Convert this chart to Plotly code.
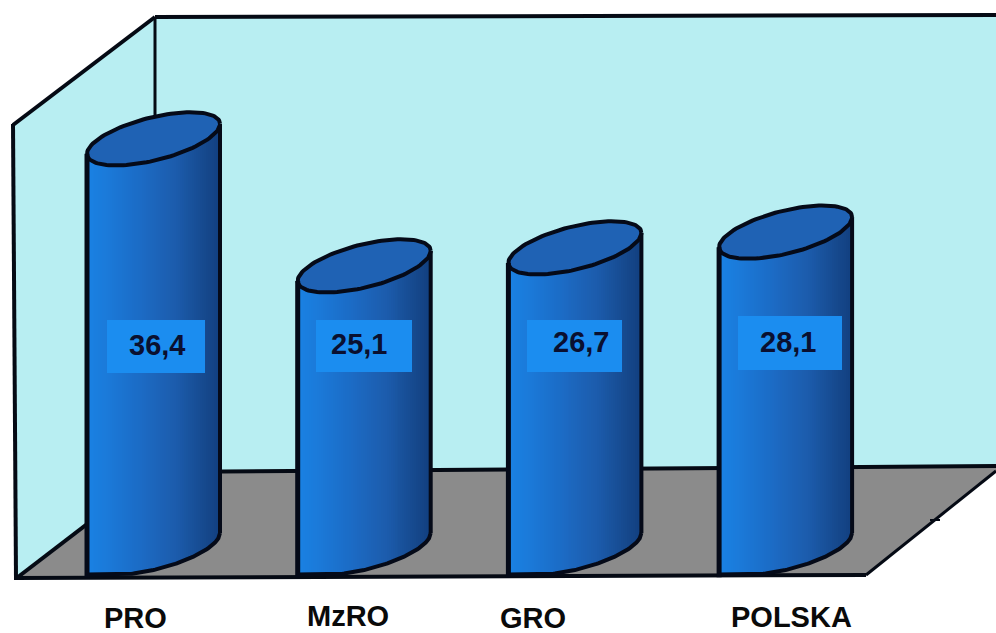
import numpy as np
import plotly.graph_objects as go

categories = ["PRO", "MzRO", "GRO", "POLSKA"]
values = [36.4, 25.1, 26.7, 28.1]
value_labels = ["36,4", "25,1", "26,7", "28,1"]

W, H = 996, 633
PX_X = 210.7          # px per category
X0 = 153.5            # px of first category
PX_Y = 11.24          # px per value unit
Y0 = 548              # px of value 0

def px(x): return x / W
def py(y): return 1 - y / H

HALF = 66.5 / PX_X    # cylinder half width in category units
SKEW = 15 / PX_Y      # tilt of the ellipse
MINOR = 22 / PX_Y     # minor half-height of the ellipse
NSTRIP = 67

u = (np.arange(NSTRIP) + 0.5) / NSTRIP * 2 - 1
stop_u = [-1, -0.75, -0.2, 0.35, 0.8, 1]
stop_rgb = np.array([[26, 130, 228], [27, 124, 220], [28, 108, 198],
                     [28, 92, 172], [22, 72, 140], [18, 64, 128]])
strip_cols = ["rgb(%d,%d,%d)" % tuple(np.interp(t, stop_u, stop_rgb[:, k]) for k in range(3)) for t in u]

front_arc = SKEW * u - MINOR * np.sqrt(1 - u ** 2)
# the foot of the cylinder stays flat left of its lowest point
foot = np.minimum.accumulate(front_arc[::-1])[::-1]

fig = go.Figure()

# cylinder bodies: thin bars whose height follows the value
xs, bases, ys, cols = [], [], [], []
for i, v in enumerate(values):
    xs += list(i + u * HALF)
    bases += list(foot)
    ys += list(v + front_arc - foot)
    cols += strip_cols
fig.add_trace(go.Bar(x=xs, y=ys, base=bases, width=2.9 * HALF / NSTRIP,
                     marker=dict(color=cols, line=dict(width=0)), hoverinfo="skip", showlegend=False))

t = np.linspace(0, 2 * np.pi, 121)
ufine = np.linspace(-1, 1, 81)
arc_fine = SKEW * ufine - MINOR * np.sqrt(1 - ufine ** 2)
foot_fine = np.minimum.accumulate(arc_fine[::-1])[::-1]
for i, v in enumerate(values):
    # top opening
    fig.add_trace(go.Scatter(x=i + HALF * np.cos(t), y=v + SKEW * np.cos(t) + MINOR * np.sin(t),
                             mode="lines", fill="toself", fillcolor="#1f62b4",
                             line=dict(color="#050a18", width=4), hoverinfo="skip", showlegend=False))
    # bottom front arc
    fig.add_trace(go.Scatter(x=i + HALF * ufine, y=foot_fine,
                             mode="lines", line=dict(color="#050a18", width=4), hoverinfo="skip", showlegend=False))
    # side edges
    fig.add_trace(go.Scatter(x=[i - HALF, i - HALF], y=[v - SKEW, -2.6], mode="lines",
                             line=dict(color="#050a18", width=5), hoverinfo="skip", showlegend=False))
    fig.add_trace(go.Scatter(x=[i + HALF, i + HALF], y=[v + SKEW, SKEW], mode="lines",
                             line=dict(color="#050a18", width=4), hoverinfo="skip", showlegend=False))

def poly(points, fill):
    d = "M " + " L ".join(f"{px(a):.5f},{py(b):.5f}" for a, b in points) + " Z"
    return dict(type="path", path=d, xref="paper", yref="paper", fillcolor=fill,
                line=dict(width=0), layer="below")

def seg(a, b, c, d, w):
    return dict(type="line", xref="paper", yref="paper", x0=px(a), y0=py(b), x1=px(c), y1=py(d),
                line=dict(color="#050a14", width=w), layer="below")

WALL = "#b8eef2"
FLOOR = "#8b8b8b"
shapes = [
    poly([(155, 17), (996, 15), (996, 466), (155, 472)], WALL),
    poly([(13, 125), (155, 17), (155, 472), (16, 578)], WALL),
    poly([(18, 577), (155, 472), (996, 466), (996, 471), (866, 575)], FLOOR),
    seg(155, 17, 996, 15, 4),
    seg(13, 125, 155, 17, 4),
    seg(13, 124, 16, 578, 4),
    seg(155, 17, 155, 472, 3),
    seg(155, 472, 996, 466, 4),
    seg(18, 577, 155, 472, 4),
    seg(14, 578, 866, 575, 4),
    seg(866, 575, 996, 471, 3),
    seg(930, 520, 940, 520, 2),
]

# value plates
plates = [(107, 205, 320, 373), (316, 412, 320, 372), (527, 622, 320, 372), (738, 842, 316, 370)]
for a, b, c, d in plates:
    shapes.append(dict(type="rect", xref="paper", yref="paper", x0=px(a), x1=px(b), y0=py(c), y1=py(d),
                       fillcolor="#1b8df0", line=dict(width=0), layer="above"))

annotations = []
val_px = [(157, 345), (359, 344), (581, 342), (788, 342)]
for lab, (a, b) in zip(value_labels, val_px):
    annotations.append(dict(x=px(a), y=py(b), xref="paper", yref="paper", xanchor="center", yanchor="middle",
                            text=f"<b>{lab}</b>", showarrow=False,
                            font=dict(family="Liberation Sans", size=29, color="#0a1030")))
cat_px = [(135, 618), (348, 616), (533, 618), (791, 617)]
for lab, (a, b) in zip(categories, cat_px):
    annotations.append(dict(x=px(a), y=py(b), xref="paper", yref="paper", xanchor="center", yanchor="middle",
                            text=f"<b>{lab}</b>", showarrow=False, borderpad=0,
                            font=dict(family="Liberation Sans", size=29, color="#0a0a0a")))

fig.update_layout(
    width=W, height=H, margin=dict(l=0, r=0, t=0, b=0), autosize=False,
    paper_bgcolor="white", plot_bgcolor="rgba(0,0,0,0)", barmode="overlay", bargap=0,
    xaxis=dict(range=[-X0 / PX_X, (W - X0) / PX_X], visible=False, fixedrange=True),
    yaxis=dict(range=[(Y0 - H) / PX_Y, Y0 / PX_Y], visible=False, fixedrange=True),
    shapes=shapes, annotations=annotations, showlegend=False,
)
fig.write_html("out.html", config={"displayModeBar": False},
               post_script="document.body.style.margin='0';document.body.style.overflow='hidden';")
